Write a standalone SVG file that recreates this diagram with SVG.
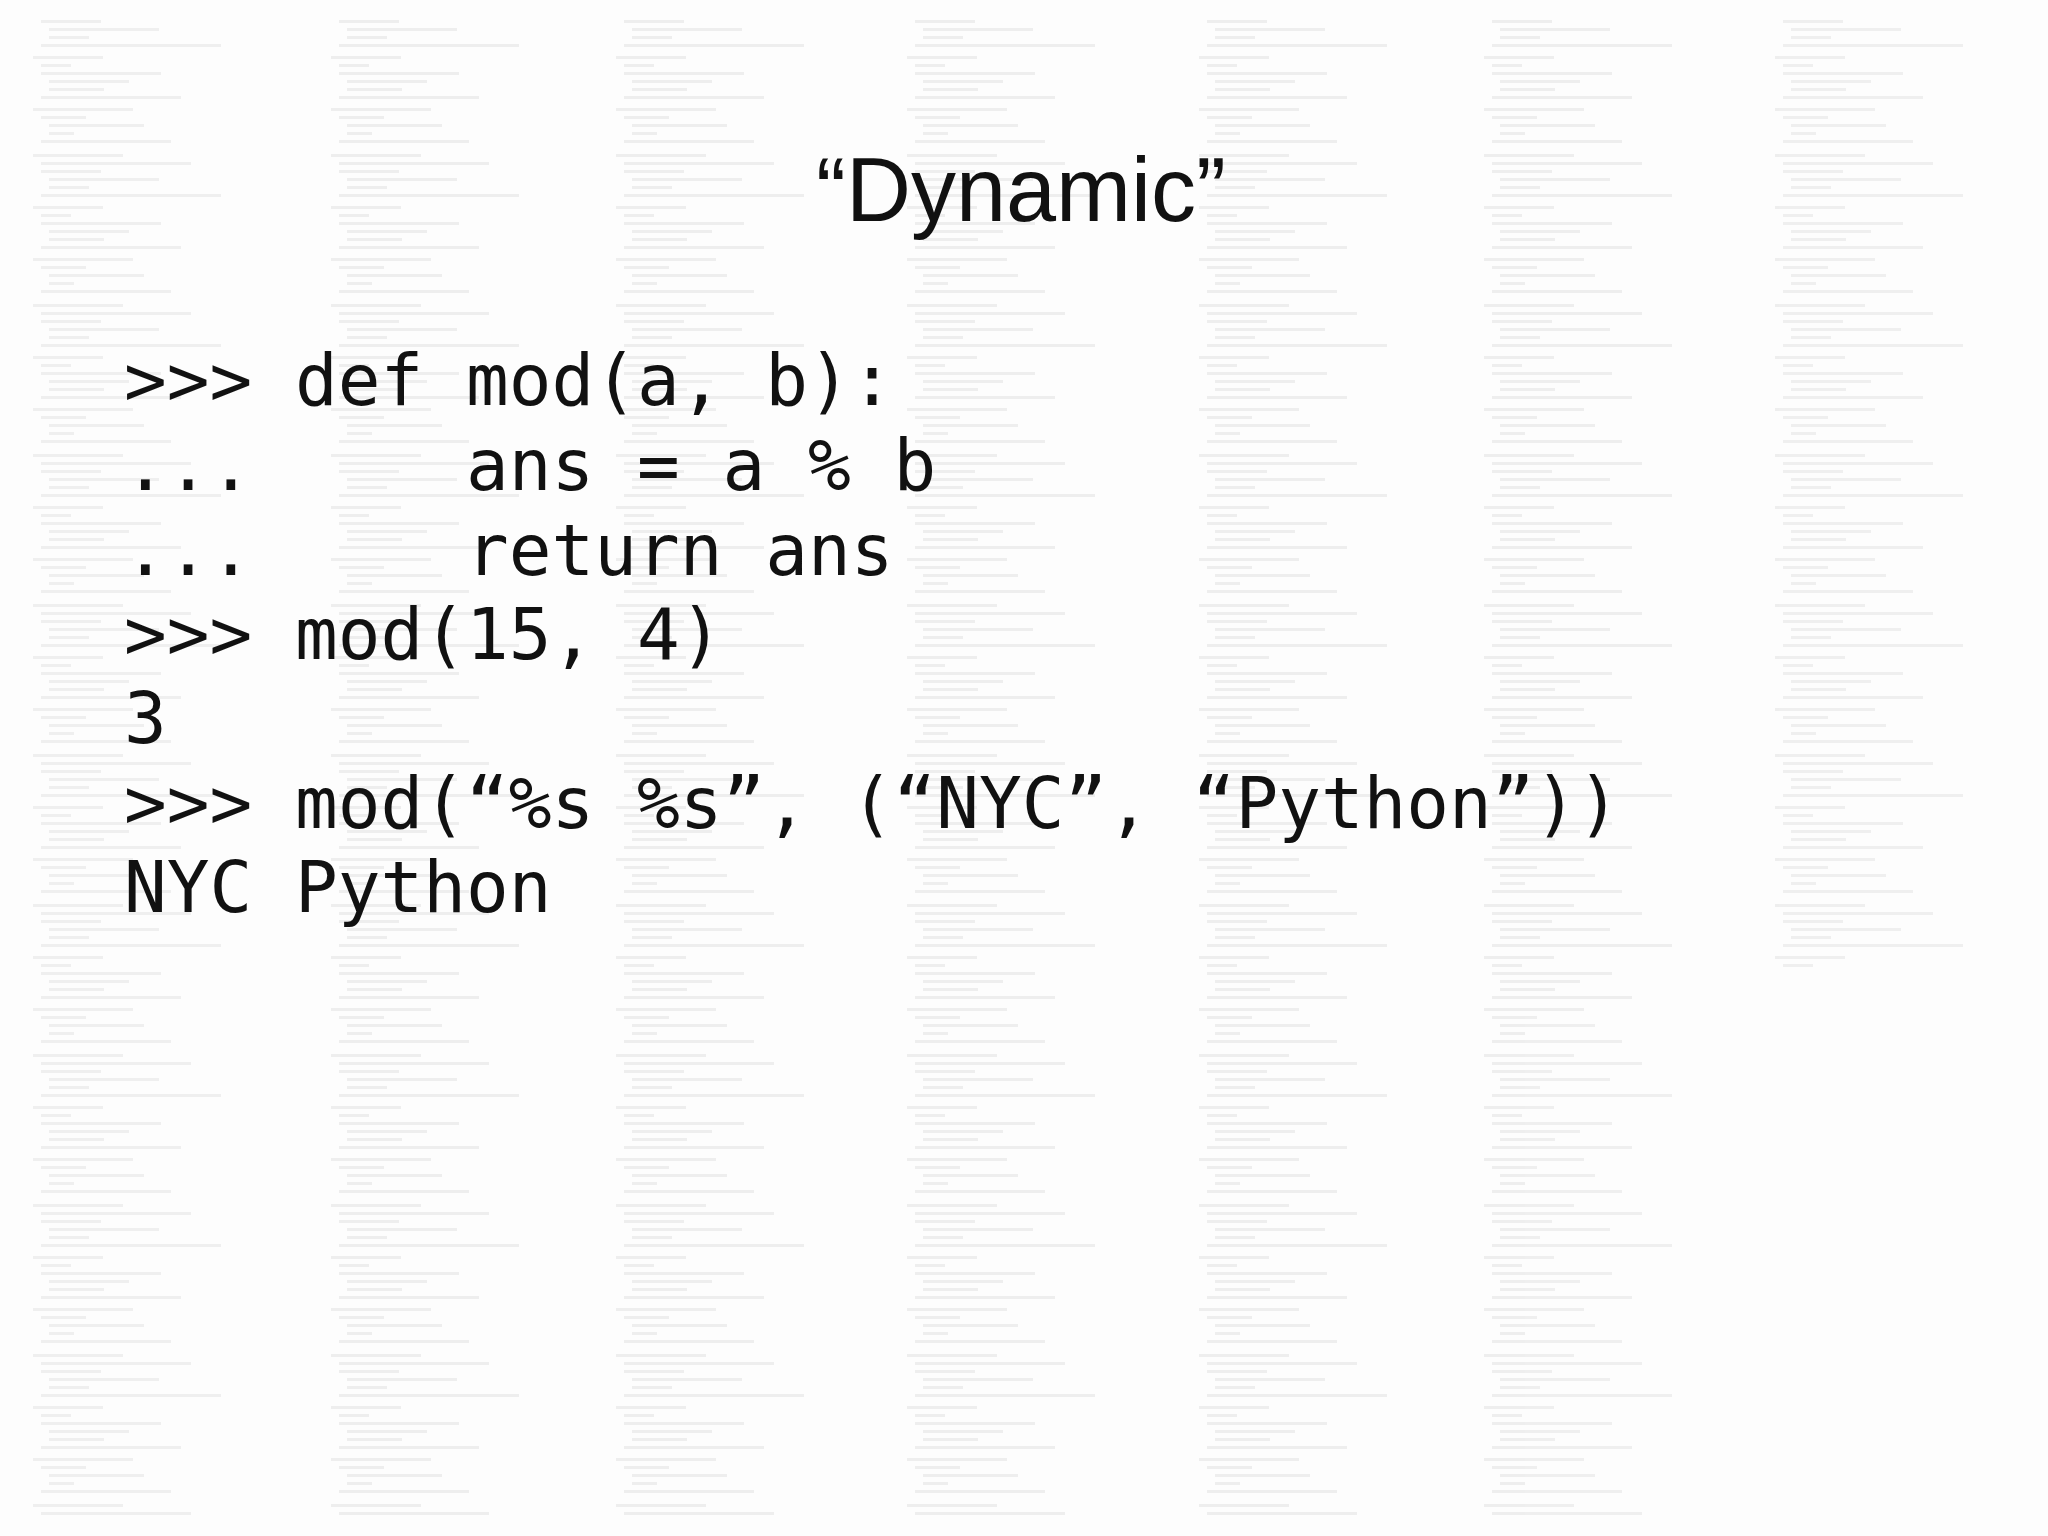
<svg xmlns="http://www.w3.org/2000/svg" xmlns:xlink="http://www.w3.org/1999/xlink" width="2048" height="1536" viewBox="0 0 2048 1536">
<defs>
<pattern id="codeTex" x="33" width="230" height="150" patternUnits="userSpaceOnUse">
<g fill="#8a8a8a">
<rect x="0" y="4" width="90" height="3"/><rect x="8" y="12" width="150" height="3"/><rect x="8" y="20" width="60" height="3"/>
<rect x="16" y="28" width="110" height="3"/><rect x="16" y="36" width="40" height="3"/><rect x="8" y="44" width="180" height="3"/>
<rect x="0" y="56" width="70" height="3"/><rect x="8" y="64" width="30" height="3"/><rect x="8" y="72" width="120" height="3"/>
<rect x="16" y="80" width="80" height="3"/><rect x="16" y="88" width="55" height="3"/><rect x="8" y="96" width="140" height="3"/>
<rect x="0" y="108" width="100" height="3"/><rect x="8" y="116" width="45" height="3"/><rect x="16" y="124" width="95" height="3"/>
<rect x="16" y="132" width="25" height="3"/><rect x="8" y="140" width="130" height="3"/>
</g>
</pattern>
<pattern id="t2" href="#codeTex" xlink:href="#codeTex" x="331"/>
<pattern id="t3" href="#codeTex" xlink:href="#codeTex" x="616"/>
<pattern id="t4" href="#codeTex" xlink:href="#codeTex" x="907"/>
<pattern id="t5" href="#codeTex" xlink:href="#codeTex" x="1199"/>
<pattern id="t6" href="#codeTex" xlink:href="#codeTex" x="1484"/>
<pattern id="t7" href="#codeTex" xlink:href="#codeTex" x="1775"/>
<style>
.code{font-family:"DejaVu Sans Mono",monospace;font-size:71px;fill:#111;white-space:pre}
.title{font-family:"Liberation Sans",Arial,sans-serif;font-size:90px;fill:#111}
</style>
</defs>
<rect width="2048" height="1536" fill="#fdfdfd"/>
<g id="background" opacity="0.12">
<rect x="33" y="20" width="230" height="1500" fill="url(#codeTex)"/>
<rect x="331" y="20" width="230" height="1500" fill="url(#t2)"/>
<rect x="616" y="20" width="230" height="1500" fill="url(#t3)"/>
<rect x="907" y="20" width="230" height="1500" fill="url(#t4)"/>
<rect x="1199" y="20" width="230" height="1500" fill="url(#t5)"/>
<rect x="1484" y="20" width="230" height="1500" fill="url(#t6)"/>
<rect x="1775" y="20" width="200" height="950" fill="url(#t7)"/>
</g>
<g id="title"><text class="title" x="1021" y="221" text-anchor="middle">“Dynamic”</text></g>
<g id="code">
<text class="code" x="124" y="405">&gt;&gt;&gt; def mod(a, b):</text>
<text class="code" x="124" y="490">...     ans = a % b</text>
<text class="code" x="124" y="575">...     return ans</text>
<text class="code" x="124" y="659">&gt;&gt;&gt; mod(15, 4)</text>
<text class="code" x="124" y="743">3</text>
<text class="code" x="124" y="828">&gt;&gt;&gt; mod(“%s %s”, (“NYC”, “Python”))</text>
<text class="code" x="124" y="912">NYC Python</text>
</g>
</svg>
